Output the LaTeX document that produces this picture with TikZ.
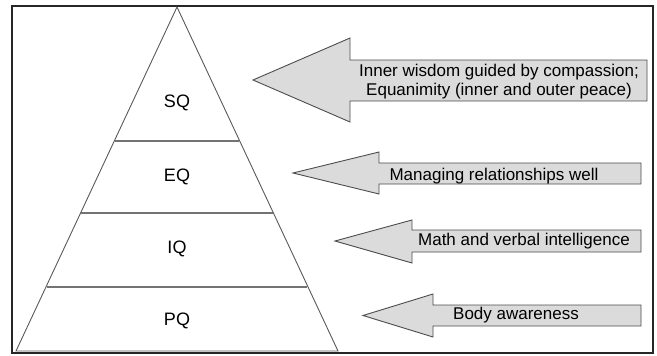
\documentclass[tikz,border=0pt]{standalone}
\usepackage{fontspec}
\setmainfont{Liberation Sans}
\begin{document}
\begin{tikzpicture}[x=1pt,y=-1pt,
  frame/.style={draw=black!85,line width=1.3pt},
  pyr/.style={draw=black!65,line width=0.9pt},
  band/.style={draw=black!55,line width=1.4pt},
  bigarrow/.style={draw=black!70,fill=black!14,line width=0.9pt,line join=miter},
  level/.style={font=\fontsize{18}{20}\selectfont,text=black},
  note/.style={font=\fontsize{17}{19}\selectfont,text=black,align=center,inner sep=0pt}]
\useasboundingbox (0,0) rectangle (657,356);
\draw[frame] (12,6) rectangle (653,353);

% pyramid
\coordinate (apex) at (177,7);
\coordinate (bl) at (16,351);
\coordinate (br) at (338,351);
\draw[pyr] (bl) -- (apex) -- (br) -- cycle;
\draw[band] (115,141) -- (239,141);
\draw[band] (81,213) -- (273,213);
\draw[band] (47,287) -- (307,287);

\node[level] (sq) at (177,103) {SQ};
\node[level] (eq) at (177,177) {EQ};
\node[level] (iq) at (177,249) {IQ};
\node[level] (pq) at (177,321) {PQ};

% arrows pointing at the levels
\draw[bigarrow] (253,80) -- (350,38) -- (350,60) -- (647,60) -- (647,101) -- (350,101) -- (350,122) -- cycle;
\draw[bigarrow] (293,173) -- (379,152) -- (379,163) -- (641,163) -- (641,184) -- (379,184) -- (379,194) -- cycle;
\draw[bigarrow] (335,241) -- (412,220) -- (412,230) -- (641,230) -- (641,252) -- (412,252) -- (412,263) -- cycle;
\draw[bigarrow] (363,315.5) -- (433,294) -- (433,305) -- (641,305) -- (641,326) -- (433,326) -- (433,337) -- cycle;

\node[note] (nsq) at (499,82) {Inner wisdom guided by compassion;\\ Equanimity (inner and outer peace)};
\node[note] (neq) at (494,176) {Managing relationships well};
\node[note] (niq) at (524,241) {Math and verbal intelligence};
\node[note] (npq) at (516,315) {Body awareness};
\end{tikzpicture}
\end{document}
